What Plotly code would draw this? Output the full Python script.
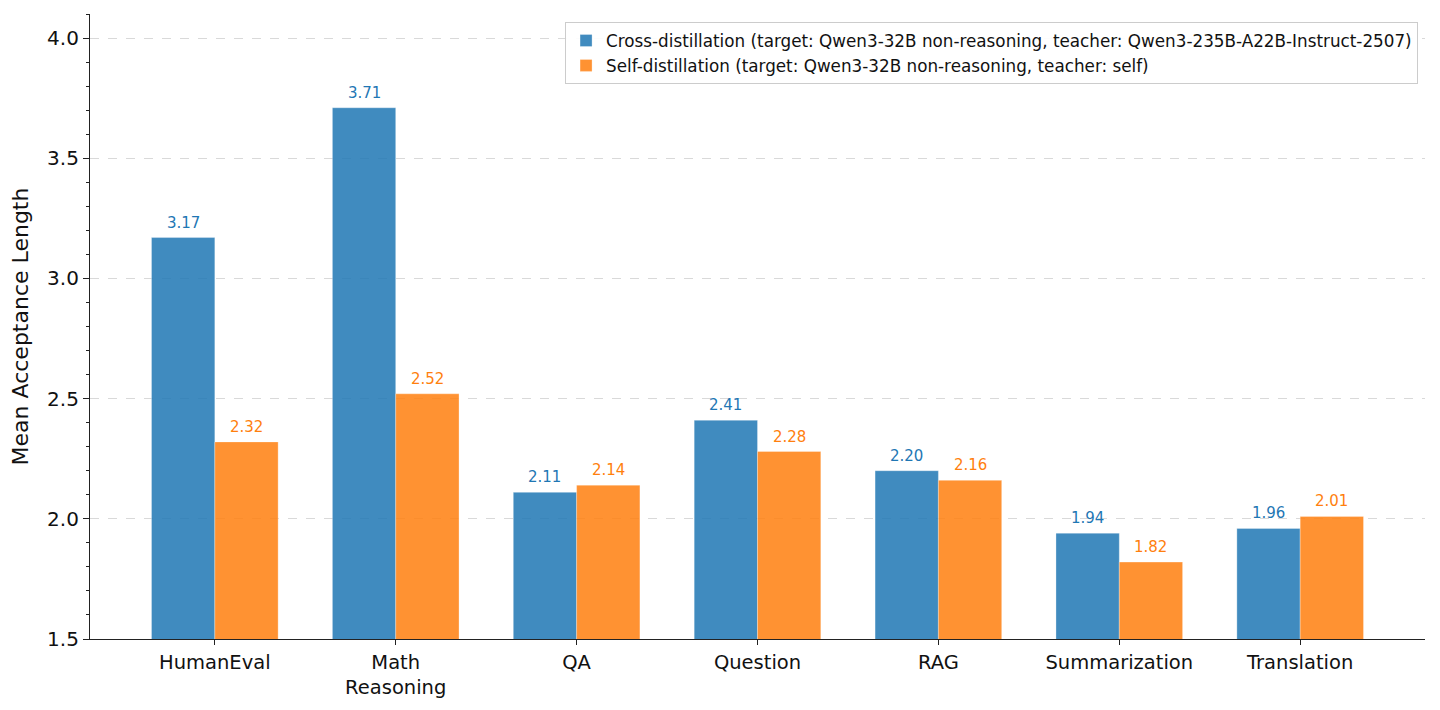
import plotly.graph_objects as go

categories = ["HumanEval", "Math<br>Reasoning", "QA", "Question", "RAG", "Summarization", "Translation"]
cross_vals = [3.17, 3.71, 2.11, 2.41, 2.20, 1.94, 1.96]
self_vals = [2.32, 2.52, 2.14, 2.28, 2.16, 1.82, 2.01]
cross_name = "Cross-distillation (target: Qwen3-32B non-reasoning, teacher: Qwen3-235B-A22B-Instruct-2507)"
self_name = "Self-distillation (target: Qwen3-32B non-reasoning, teacher: self)"

BLUE = "#1f77b4"
ORANGE = "#ff7f0e"
BLUE_F = "rgba(31,119,180,0.85)"
ORANGE_F = "rgba(255,127,14,0.85)"
FONT = "DejaVu Sans"
W = 0.35

x_idx = list(range(len(categories)))
fig = go.Figure()
fig.add_trace(go.Bar(x=[i - W / 2 for i in x_idx], y=cross_vals, width=W, name=cross_name,
                     marker=dict(color=BLUE_F, line=dict(color="rgba(255,255,255,0.6)", width=0.5))))
fig.add_trace(go.Bar(x=[i + W / 2 for i in x_idx], y=self_vals, width=W, name=self_name,
                     marker=dict(color=ORANGE_F, line=dict(color="rgba(255,255,255,0.6)", width=0.5))))

for i, v in enumerate(cross_vals):
    fig.add_annotation(x=i - W / 2, y=v, text=f"{v:.2f}", showarrow=False, yanchor="bottom",
                       yshift=4, font=dict(family=FONT, size=15, color=BLUE))
for i, v in enumerate(self_vals):
    fig.add_annotation(x=i + W / 2, y=v, text=f"{v:.2f}", showarrow=False, yanchor="bottom",
                       yshift=4, font=dict(family=FONT, size=15, color=ORANGE))

fig.update_layout(
    width=1440, height=710,
    margin=dict(l=90, r=15, t=14, b=71),
    paper_bgcolor="white", plot_bgcolor="white",
    font=dict(family=FONT, color="#222222"),
    barmode="overlay",
    showlegend=True,
    legend=dict(x=0.9948, y=0.987, xanchor="right", yanchor="top",
                bgcolor="rgba(255,255,255,0.9)", bordercolor="#cccccc", borderwidth=1,
                font=dict(family=FONT, size=16.8, color="#111111"), tracegroupgap=0),
    xaxis=dict(
        range=[-0.69, 6.69], tickmode="array", tickvals=x_idx, ticktext=categories,
        showgrid=False, zeroline=False, showline=True, linecolor="#222222", linewidth=1.2,
        ticks="outside", ticklen=5, tickcolor="#222222",
        tickfont=dict(family=FONT, size=19.5, color="#111111"),
    ),
    yaxis=dict(
        range=[1.5, 4.1], tickmode="array", tickvals=[1.5, 2.0, 2.5, 3.0, 3.5, 4.0],
        ticktext=["1.5", "2.0", "2.5", "3.0", "3.5", "4.0"],
        showgrid=True, gridcolor="rgba(180,180,180,0.5)", griddash="dash", gridwidth=1,
        zeroline=False, showline=True, linecolor="#222222", linewidth=1.2,
        ticks="outside", ticklen=6, tickcolor="#222222",
        minor=dict(dtick=0.1, tick0=1.5, ticks="outside", ticklen=3, tickcolor="#222222", showgrid=False),
        tickfont=dict(family=FONT, size=20, color="#111111"),
        title=dict(text="Mean Acceptance Length", font=dict(family=FONT, size=22, color="#111111"), standoff=12),
    ),
)

fig.write_html("out.html")
